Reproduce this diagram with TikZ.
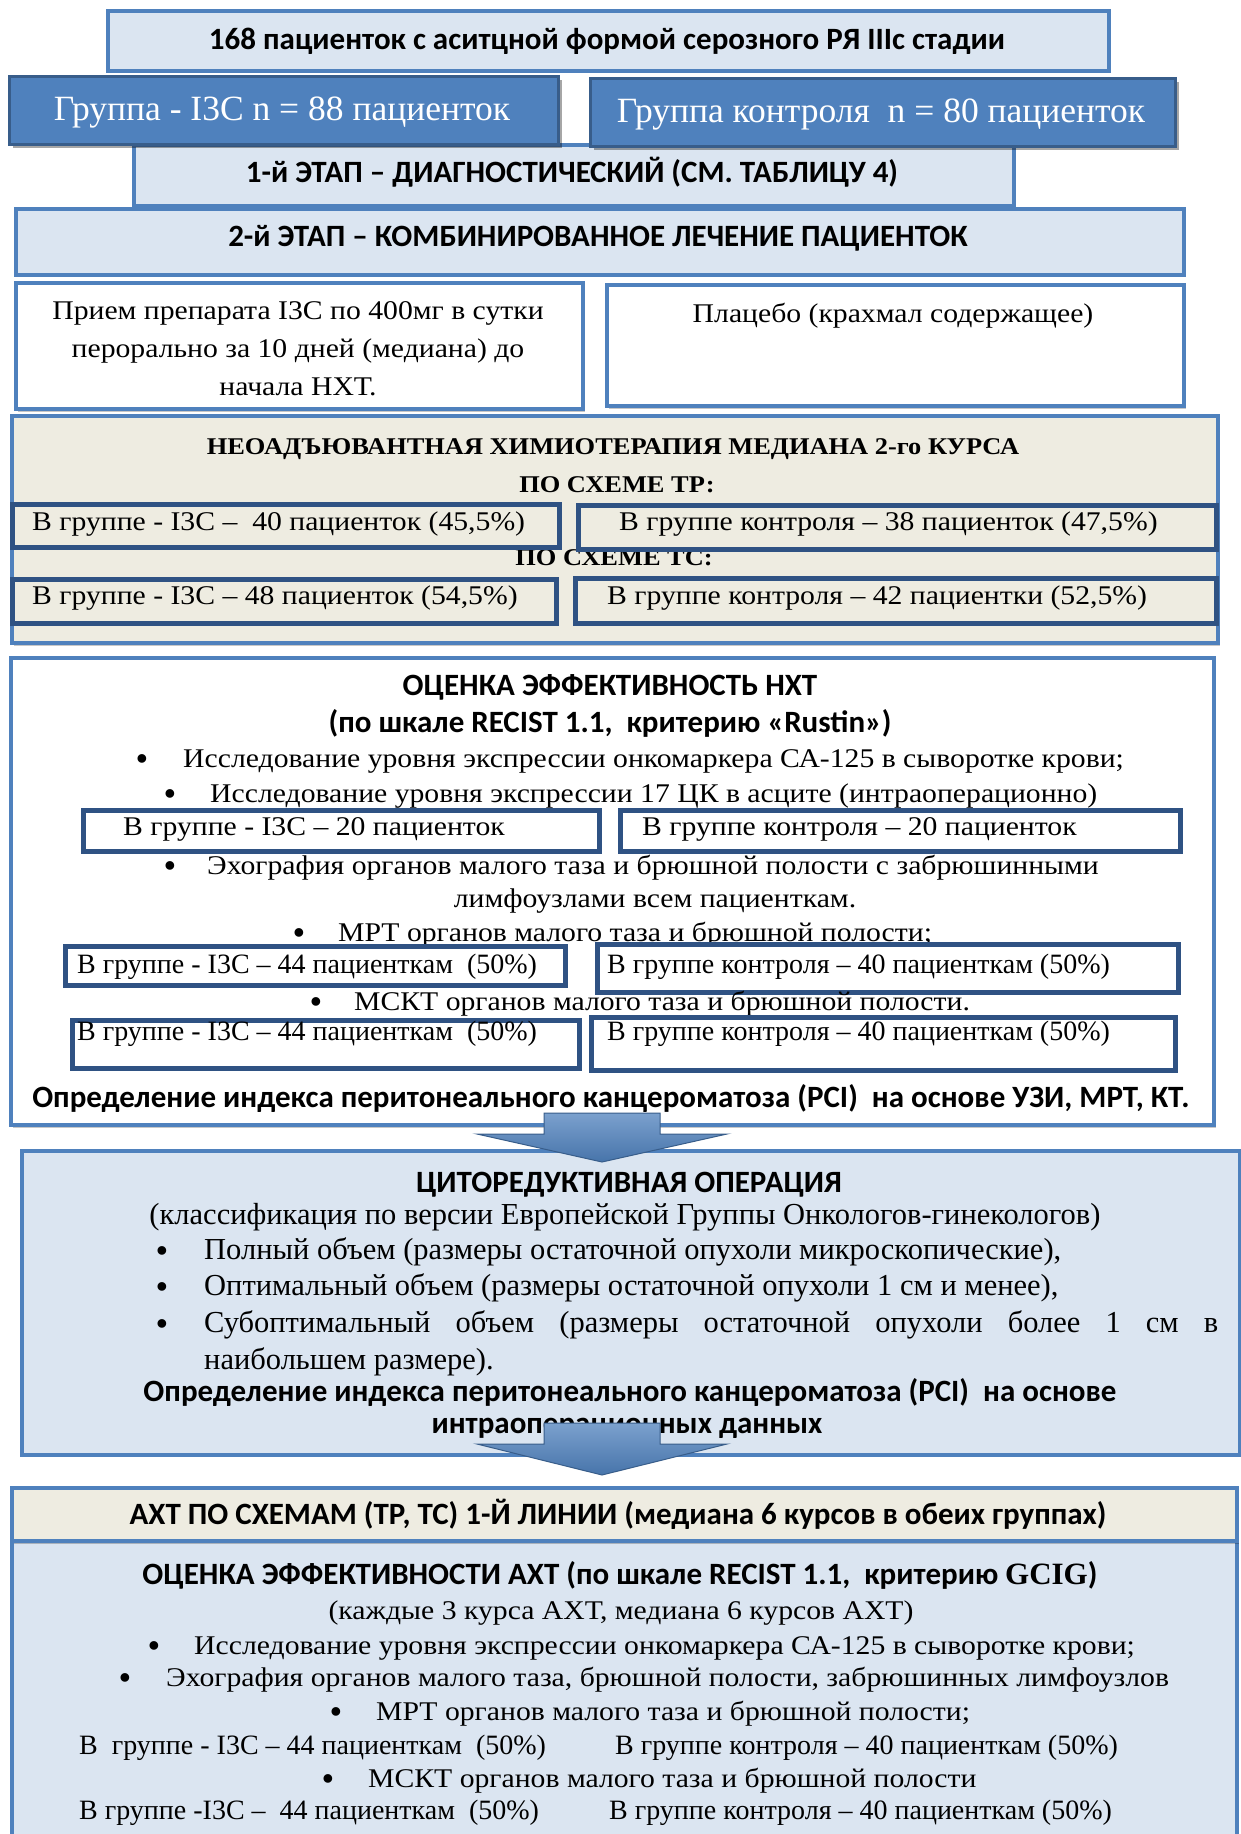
\documentclass[tikz,border=0pt]{standalone}
\usepackage{fontspec}
\setmainfont{Liberation Serif}
\newfontfamily\camfont[FakeStretch=1.1]{Liberation Serif}
\newfontfamily\calfont{Carlito}
\usetikzlibrary{shadows}
\definecolor{lblue}{HTML}{DBE5F1}
\definecolor{mblue}{HTML}{4F81BD}
\definecolor{dblue}{HTML}{385D8A}
\definecolor{nblue}{HTML}{2F5283}
\definecolor{beige}{HTML}{EEECE1}
\newcommand\mybox[6]{\node[#1, anchor=north west, inner sep=0pt, minimum width={(#5)-(#3)}, minimum height={(#6)-(#4)}] (#2) at (#3,#4) {};}
\tikzset{
  softshadow/.style={drop shadow={shadow xshift=2pt, shadow yshift=-2.5pt, fill=black, opacity=0.22}},
  lbbox/.style={draw=mblue, fill=lblue, line width=3.5pt, softshadow},
  dbbox/.style={draw=dblue, fill=mblue, line width=3pt, drop shadow={shadow xshift=3pt, shadow yshift=-3pt, fill=black, opacity=0.35}},
  wbox/.style={draw=mblue, fill=white, line width=4pt, softshadow},
  bgbox/.style={draw=mblue, fill=beige, line width=4pt, softshadow},
  inbeige/.style={draw=nblue, fill=beige, line width=5pt},
  inwhite/.style={draw=nblue, fill=white, line width=5pt},
  calb/.style={font=\calfont\bfseries\fontsize{31}{36}\selectfont, inner sep=0pt},
  camt/.style={font=\camfont\fontsize{27}{32}\selectfont, inner sep=0pt},
  camb/.style={font=\camfont\bfseries\fontsize{24}{29}\selectfont, inner sep=0pt},
  tnr/.style={font=\fontsize{30.5}{35}\selectfont, inner sep=0pt},
  tnrs/.style={font=\fontsize{28}{33}\selectfont, inner sep=0pt},
  grp/.style={font=\fontsize{35.5}{40}\selectfont, text=white, inner sep=0pt},
  bul/.style={font=\bfseries\fontsize{32}{36}\selectfont, inner sep=0pt, anchor=base},
  blockarrow/.style={draw=dblue, line width=1pt, top color=mblue!75!white, bottom color=mblue!90!black},
}
\begin{document}
\begin{tikzpicture}[x=1pt,y=-1pt]
\useasboundingbox (0,0) rectangle (1240,1834);
% ---- top part
\mybox{lbbox}{top}{106}{9}{1107}{69}
\node[calb, anchor=base] (ttop) at (607,49) {168 пациенток с аситцной формой серозного РЯ IIIc стадии};
\mybox{lbbox}{st1}{132}{143}{1012}{204}
\mybox{dbbox}{gl}{8}{75}{557}{143}
\mybox{dbbox}{gr}{589}{77}{1174}{145}
\node[grp, anchor=base] (tgl) at (282,120) {Группа - I3C n = 88 пациенток};
\node[grp, anchor=base] (tgr) at (881,122) {Группа контроля\ \ n = 80 пациенток};
\node[calb, anchor=base] (tst1) at (572,182) {1-й ЭТАП – ДИАГНОСТИЧЕСКИЙ (СМ. ТАБЛИЦУ 4)};
\mybox{lbbox}{st2}{14}{207}{1182}{273}
\node[calb, anchor=base] (tst2) at (598,246) {2-й ЭТАП – КОМБИНИРОВАННОЕ ЛЕЧЕНИЕ ПАЦИЕНТОК};
% ---- drug / placebo
\mybox{wbox}{drug}{14}{281}{581}{407}
\mybox{wbox}{plac}{605}{283}{1182}{404}
\node[camt, anchor=base] (td1) at (298,319) {Прием препарата I3C по 400мг в сутки};
\node[camt, anchor=base] (td2) at (298,357) {перорально за 10 дней (медиана) до};
\node[camt, anchor=base] (td3) at (298,395) {начала НХТ.};
\node[camt, anchor=base] (tpl) at (893,322) {Плацебо (крахмал содержащее)};
% ---- neoadjuvant
\mybox{bgbox}{neo}{10}{414}{1216}{641}
\node[camb, anchor=base] (tn1) at (613,454) {НЕОАДЪЮВАНТНАЯ ХИМИОТЕРАПИЯ МЕДИАНА 2-го КУРСА};
\node[camb, anchor=base] (tn2) at (617,492) {ПО СХЕМЕ ТР:};
\node[camb, anchor=base] (tn3) at (614,565) {ПО СХЕМЕ ТС:};
\mybox{inbeige}{r1l}{10}{502}{557}{545}
\mybox{inbeige}{r1r}{576}{503}{1214}{547}
\mybox{inbeige}{r2l}{10}{577}{554}{621}
\mybox{inbeige}{r2r}{573}{576}{1214}{621}
\node[camt, anchor=base west] (tr1l) at (32,530) {В группе - I3C –\ \ 40 пациенток (45,5\%)};
\node[camt, anchor=base west] (tr1r) at (619,530) {В группе контроля – 38 пациенток (47,5\%)};
\node[camt, anchor=base west] (tr2l) at (32,604) {В группе - I3C – 48 пациенток (54,5\%)};
\node[camt, anchor=base west] (tr2r) at (607,604) {В группе контроля – 42 пациентки (52,5\%)};
% ---- evaluation of NACT
\mybox{wbox}{ocen}{9}{656}{1212}{1123}
\node[calb, anchor=base] (to1) at (610,695) {ОЦЕНКА ЭФФЕКТИВНОСТЬ НХТ};
\node[calb, anchor=base] (to2) at (610,732) {(по шкале RECIST 1.1,\ \ критерию «Rustin»)};
\node[bul] (bo3) at (142,769) {•};
\node[camt, anchor=base west] (to3) at (183,767) {Исследование уровня экспрессии онкомаркера СА-125 в сыворотке крови;};
\node[bul] (bo4) at (170,804) {•};
\node[camt, anchor=base west] (to4) at (210,802) {Исследование уровня экспрессии 17 ЦК в асците (интраоперационно)};
\mybox{inwhite}{b20l}{81}{808}{597}{849}
\mybox{inwhite}{b20r}{618}{808}{1178}{849}
\node[camt, anchor=base west] (tb20l) at (123,835) {В группе - I3C – 20 пациенток};
\node[camt, anchor=base west] (tb20r) at (642,835) {В группе контроля – 20 пациенток};
\node[bul] (bo5) at (170,876) {•};
\node[camt, anchor=base west] (to5) at (207,874) {Эхография органов малого таза и брюшной полости с забрюшинными};
\node[camt, anchor=base] (to6) at (655,907) {лимфоузлами всем пациенткам.};
\node[bul] (bo7) at (299,943) {•};
\node[camt, anchor=base west] (to7) at (338,941) {МРТ органов малого таза и брюшной полости;};
\mybox{inwhite}{mrl}{63}{944}{563}{983}
\mybox{inwhite}{mrr}{595}{942}{1176}{990}
\node[tnrs, anchor=base west] (tmrl) at (77,973) {В группе - I3C – 44 пациенткам\ \ (50\%)};
\node[tnrs, anchor=base west] (tmrr) at (607,973) {В группе контроля – 40 пациенткам (50\%)};
\node[bul] (bo8) at (316,1012) {•};
\node[camt, anchor=base west] (to8) at (354,1010) {МСКТ органов малого таза и брюшной полости.};
\mybox{inwhite}{msl}{70}{1018}{577}{1066}
\mybox{inwhite}{msr}{589}{1015}{1173}{1068}
\node[tnrs, anchor=base west] (tmsl) at (77,1040) {В группе - I3C – 44 пациенткам\ \ (50\%)};
\node[tnrs, anchor=base west] (tmsr) at (607,1040) {В группе контроля – 40 пациенткам (50\%)};
\node[calb, anchor=base] (to9) at (611,1107) {Определение индекса перитонеального канцероматоза (PCI)\ \ на основе УЗИ, МРТ, КТ.};
% ---- surgery
\mybox{lbbox}{cyto}{20}{1149}{1238}{1453}
\node[calb, anchor=base] (tc1) at (629,1192) {ЦИТОРЕДУКТИВНАЯ ОПЕРАЦИЯ};
\node[tnr, anchor=base] (tc2) at (625,1224) {(классификация по версии Европейской Группы Онкологов-гинекологов)};
\node[bul] (bc3) at (162,1261) {•};
\node[tnr, anchor=base west] (tc3) at (204,1259) {Полный объем (размеры остаточной опухоли микроскопические),};
\node[bul] (bc4) at (162,1297) {•};
\node[tnr, anchor=base west] (tc4) at (204,1295) {Оптимальный объем (размеры остаточной опухоли 1 см и менее),};
\node[bul] (bc5) at (162,1334) {•};
\node[tnr, anchor=base west] (tc5) at (204,1332) {\makebox[1014pt][s]{Субоптимальный объем (размеры остаточной опухоли более 1 см в}};
\node[tnr, anchor=base west] (tc6) at (204,1369) {наибольшем размере).};
\node[calb, anchor=base] (tc7) at (630,1401) {Определение индекса перитонеального канцероматоза (PCI)\ \ на основе};
\node[calb, anchor=base] (tc8) at (627,1433) {интраоперационных данных};
% ---- adjuvant
\mybox{lbbox}{axtb}{10}{1539}{1235}{1850}
\mybox{bgbox}{axth}{10}{1486}{1235}{1539}
\node[calb, anchor=base] (ta1) at (618,1524) {АХТ ПО СХЕМАМ (ТР, ТС) 1-Й ЛИНИИ (медиана 6 курсов в обеих группах)};
\node[calb, anchor=base] (ta2) at (620,1584) {ОЦЕНКА ЭФФЕКТИВНОСТИ АХТ (по шкале RECIST 1.1,\ \ критерию {\rmfamily GCIG})};
\node[camt, anchor=base] (ta3) at (621,1619) {(каждые 3 курса АХТ, медиана 6 курсов АХТ)};
\node[bul] (ba4) at (154,1656) {•};
\node[camt, anchor=base west] (ta4) at (194,1654) {Исследование уровня экспрессии онкомаркера СА-125 в сыворотке крови;};
\node[bul] (ba5) at (125,1688) {•};
\node[camt, anchor=base west] (ta5) at (166,1686) {Эхография органов малого таза, брюшной полости, забрюшинных лимфоузлов};
\node[bul] (ba6) at (336,1722) {•};
\node[camt, anchor=base west] (ta6) at (376,1720) {МРТ органов малого таза и брюшной полости;};
\node[tnrs, anchor=base west] (ta7l) at (79,1754) {В\ \ группе - I3C – 44 пациенткам\ \ (50\%)};
\node[tnrs, anchor=base west] (ta7r) at (615,1754) {В группе контроля – 40 пациенткам (50\%)};
\node[bul] (ba8) at (328,1789) {•};
\node[camt, anchor=base west] (ta8) at (368,1787) {МСКТ органов малого таза и брюшной полости};
\node[tnrs, anchor=base west] (ta9l) at (79,1819) {В группе -I3C –\ \ 44 пациенткам\ \ (50\%)};
\node[tnrs, anchor=base west] (ta9r) at (609,1819) {В группе контроля – 40 пациенткам (50\%)};
% ---- arrows
\coordinate (a1) at (602,1113);
\coordinate (a2) at (602,1423);
\path[blockarrow] (a1) ++(-58,0) -- ++(116,0) -- ++(0,21) -- ++(67,0) -- ++(-125,28) -- ++(-125,-28) -- ++(67,0) -- cycle;
\path[blockarrow] (a2) ++(-58,0) -- ++(116,0) -- ++(0,21) -- ++(67,0) -- ++(-125,31) -- ++(-125,-31) -- ++(67,0) -- cycle;
\end{tikzpicture}
\end{document}
